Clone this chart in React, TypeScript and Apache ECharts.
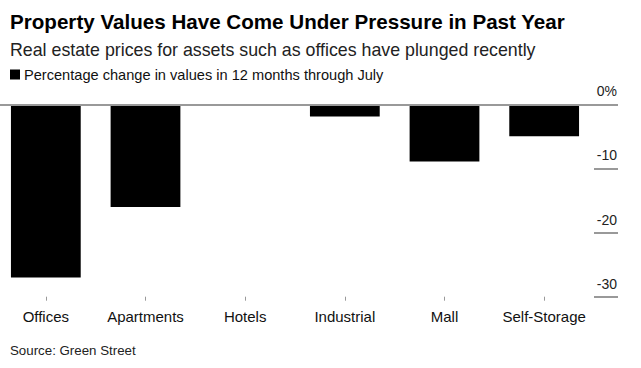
import React, { useEffect, useRef } from "react";
import * as echarts from "echarts";

const categories = ["Offices", "Apartments", "Hotels", "Industrial", "Mall", "Self-Storage"];
const values = [-27.0, -16.0, -0.2, -1.9, -8.9, -5.0];
const seriesName = "Percentage change in values in 12 months through July";
const titleText = "Property Values Have Come Under Pressure in Past Year";
const subtitleText = "Real estate prices for assets such as offices have plunged recently";
const sourceText = "Source: Green Street";

const FONT = "'Liberation Sans', Arial, Helvetica, sans-serif";
const SHIFT = 4;

export default function App() {
  const ref = useRef<HTMLDivElement>(null);
  useEffect(() => {
    if (!ref.current) return;
    const chart = echarts.init(ref.current, undefined, { renderer: "svg" });
    chart.setOption({
      animation: false,
      backgroundColor: "#ffffff",
      textStyle: { fontFamily: FONT },
      title: [
        {
          text: titleText,
          left: 10 + SHIFT,
          top: 11,
          padding: 0,
          textStyle: { fontSize: 20.6, fontWeight: "bold", color: "#000", fontFamily: FONT },
        },
        {
          text: subtitleText,
          left: 10 + SHIFT,
          top: 41,
          padding: 0,
          textStyle: { fontSize: 17.8, fontWeight: "normal", color: "#222", fontFamily: FONT },
        },
        {
          text: sourceText,
          left: 10 + SHIFT,
          top: 344,
          padding: 0,
          textStyle: { fontSize: 13.3, fontWeight: "normal", color: "#222", fontFamily: FONT },
        },
      ],
      legend: {
        left: 10 + SHIFT,
        top: 67,
        padding: 0,
        icon: "rect",
        itemWidth: 10,
        itemHeight: 10,
        itemGap: 5,
        textStyle: { fontSize: 14.6, color: "#111", fontFamily: FONT, padding: [0, 0, 0, -1] },
        data: [seriesName],
      },
      grid: { left: 0, right: 47, top: 104.3, bottom: 71.3, containLabel: false },
      xAxis: {
        type: "category",
        data: categories,
        position: "bottom",
        axisLine: { show: false, onZero: false },
        axisTick: { show: true, alignWithLabel: true, interval: 0, length: 4, lineStyle: { color: "#999", width: 1 } },
        axisLabel: { color: "#111", fontSize: 15, margin: 12, interval: 0, fontFamily: FONT },
      },
      yAxis: {
        type: "value",
        position: "right",
        min: -30,
        max: 0,
        interval: 10,
        axisLine: { show: false },
        splitLine: { show: false },
        axisTick: { show: true, inside: false, length: 24, lineStyle: { color: "#999", width: 2 } },
        axisLabel: {
          color: "#222",
          fontSize: 14,
          fontFamily: FONT,
          margin: 23,
          align: "right",
          verticalAlign: "bottom",
          padding: [0, 0, 6, 0],
          formatter: (v: number) => (v === 0 ? "0%" : String(v)),
        },
      },
      series: [
        {
          type: "line",
          data: [],
          z: 1,
          silent: true,
          markLine: {
            silent: true,
            symbol: "none",
            label: { show: false },
            lineStyle: { color: "#999", width: 2, type: "solid" },
            data: [{ yAxis: 0 }],
          },
        },
        {
          name: seriesName,
          type: "bar",
          data: values,
          z: 3,
          barCategoryGap: "30%",
          itemStyle: { color: "#000" },
        },
      ],
    });
    return () => chart.dispose();
  }, []);
  return (
    <div
      ref={ref}
      style={{ position: "fixed", left: -SHIFT, top: 0, width: 641 + SHIFT, height: 368 }}
    />
  );
}
